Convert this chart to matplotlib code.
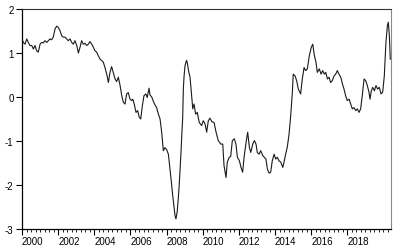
import matplotlib
matplotlib.use("Agg")
import matplotlib.pyplot as plt
import numpy as np
from matplotlib.ticker import MultipleLocator, FixedLocator

# decimal-year dates and values
dates = [
    2000.00, 2000.07, 2000.17, 2000.26, 2000.35, 2000.44, 2000.54, 2000.63, 2000.72, 2000.81,
    2000.90, 2001.00, 2001.09, 2001.18, 2001.27, 2001.37, 2001.46, 2001.55, 2001.64, 2001.73,
    2001.83, 2001.92, 2002.01, 2002.10, 2002.20, 2002.29, 2002.38, 2002.47, 2002.56, 2002.66,
    2002.75, 2002.84, 2002.93, 2003.03, 2003.12, 2003.21, 2003.30, 2003.39, 2003.49, 2003.58,
    2003.67, 2003.76, 2003.86, 2003.95, 2004.04, 2004.13, 2004.22, 2004.32, 2004.41, 2004.50,
    2004.59, 2004.69, 2004.78, 2004.87, 2004.96, 2005.05, 2005.15, 2005.24, 2005.33, 2005.42,
    2005.52, 2005.61, 2005.70, 2005.79, 2005.88, 2005.98, 2006.07, 2006.13, 2006.21, 2006.31,
    2006.40, 2006.49, 2006.57, 2006.66, 2006.75, 2006.85, 2006.93, 2007.03, 2007.08, 2007.18,
    2007.27, 2007.36, 2007.45, 2007.54, 2007.64, 2007.73, 2007.82, 2007.91, 2008.01, 2008.10,
    2008.19, 2008.27, 2008.34, 2008.41, 2008.47, 2008.52, 2008.59, 2008.65, 2008.70, 2008.76,
    2008.80, 2008.85, 2008.89, 2008.93, 2008.97, 2009.02, 2009.08, 2009.11, 2009.16, 2009.20,
    2009.24, 2009.30, 2009.35, 2009.39, 2009.45, 2009.52, 2009.61, 2009.70, 2009.81, 2009.94,
    2010.03, 2010.13, 2010.22, 2010.31, 2010.40, 2010.50, 2010.63, 2010.74, 2010.86, 2011.00,
    2011.11, 2011.18, 2011.29, 2011.36, 2011.47, 2011.55, 2011.64, 2011.75, 2011.84, 2011.92,
    2012.03, 2012.12, 2012.21, 2012.30, 2012.44, 2012.49, 2012.58, 2012.66, 2012.77, 2012.86,
    2012.95, 2013.02, 2013.12, 2013.21, 2013.32, 2013.41, 2013.50, 2013.58, 2013.67, 2013.76,
    2013.85, 2013.95, 2014.04, 2014.13, 2014.22, 2014.32, 2014.43, 2014.50, 2014.59, 2014.68,
    2014.78, 2014.87, 2014.96, 2015.01, 2015.11, 2015.20, 2015.29, 2015.42, 2015.51, 2015.61,
    2015.70, 2015.79, 2015.90, 2016.01, 2016.09, 2016.18, 2016.27, 2016.34, 2016.45, 2016.55,
    2016.64, 2016.73, 2016.81, 2016.90, 2016.99, 2017.08, 2017.17, 2017.27, 2017.36, 2017.45,
    2017.54, 2017.64, 2017.73, 2017.82, 2017.91, 2018.00, 2018.10, 2018.19, 2018.28, 2018.37,
    2018.47, 2018.56, 2018.65, 2018.74, 2018.83, 2018.93, 2019.02, 2019.11, 2019.20, 2019.26,
    2019.33, 2019.41, 2019.50, 2019.59, 2019.68, 2019.77, 2019.87, 2019.96, 2020.05, 2020.14,
    2020.22, 2020.27, 2020.33, 2020.38,
]
values = [
    1.32, 1.24, 1.20, 1.32, 1.24, 1.17, 1.17, 1.09, 1.17, 1.05,
    1.02, 1.20, 1.24, 1.23, 1.28, 1.24, 1.28, 1.32, 1.30, 1.36,
    1.55, 1.61, 1.58, 1.51, 1.39, 1.36, 1.36, 1.32, 1.28, 1.32,
    1.24, 1.20, 1.28, 1.17, 1.00, 1.13, 1.28, 1.20, 1.22, 1.17,
    1.20, 1.26, 1.20, 1.13, 1.05, 1.02, 0.94, 0.86, 0.83, 0.79,
    0.67, 0.52, 0.33, 0.56, 0.69, 0.56, 0.41, 0.35, 0.45, 0.28,
    0.03, -0.12, -0.16, 0.07, 0.10, -0.05, -0.08, -0.05, -0.16, -0.35,
    -0.31, -0.46, -0.50, -0.20, 0.03, 0.07, -0.01, 0.20, 0.05, 0.00,
    -0.10, -0.18, -0.24, -0.38, -0.50, -0.80, -1.22, -1.15, -1.20, -1.30,
    -1.64, -1.95, -2.24, -2.50, -2.70, -2.77, -2.60, -2.30, -2.00, -1.55,
    -1.25, -0.80, -0.50, 0.20, 0.48, 0.71, 0.80, 0.83, 0.75, 0.64,
    0.55, 0.45, 0.20, 0.03, -0.27, -0.16, -0.39, -0.35, -0.58, -0.65,
    -0.54, -0.61, -0.80, -0.54, -0.48, -0.56, -0.58, -0.80, -0.99, -1.07,
    -1.07, -1.56, -1.83, -1.48, -1.37, -1.35, -0.99, -0.95, -1.07, -1.37,
    -1.45, -1.60, -1.71, -1.33, -0.92, -0.80, -1.14, -1.26, -1.07, -0.99,
    -1.07, -1.26, -1.30, -1.22, -1.33, -1.37, -1.41, -1.64, -1.73, -1.71,
    -1.45, -1.30, -1.41, -1.37, -1.45, -1.48, -1.60, -1.48, -1.30, -1.14,
    -0.84, -0.42, 0.10, 0.52, 0.48, 0.37, 0.18, 0.07, 0.41, 0.67,
    0.60, 0.64, 0.94, 1.13, 1.20, 0.94, 0.79, 0.56, 0.64, 0.52,
    0.60, 0.52, 0.56, 0.41, 0.45, 0.33, 0.37, 0.48, 0.52, 0.60,
    0.52, 0.45, 0.30, 0.18, 0.03, -0.08, -0.05, -0.16, -0.27, -0.24,
    -0.31, -0.27, -0.35, -0.27, 0.03, 0.41, 0.37, 0.26, 0.11, -0.05,
    0.14, 0.22, 0.14, 0.26, 0.18, 0.22, 0.07, 0.11, 0.48, 1.24,
    1.62, 1.70, 1.39, 0.86,
]
year_ticks = [2000, 2002, 2004, 2006, 2008, 2010, 2012, 2014, 2016, 2018]
y_ticks = [-3, -2, -1, 0, 1, 2]

plt.rcParams['font.family'] = ['Liberation Sans', 'DejaVu Sans']

fig = plt.figure(figsize=(3.98, 2.53), dpi=100)
ax = fig.add_axes([22/398, 1-230/253, (391-22)/398, 220/253])

ax.plot(dates, values, color='#1a1a1a', lw=0.8)

ax.set_xlim(2000, 2020.42)
ax.set_ylim(-3, 2)

ax.yaxis.set_major_locator(FixedLocator(y_ticks))
ax.set_yticklabels([str(v) for v in y_ticks])
ax.xaxis.set_major_locator(FixedLocator(year_ticks))
ax.xaxis.set_minor_locator(MultipleLocator(0.25))
ax.set_xticklabels([str(y) for y in year_ticks], ha='left')

ax.tick_params(axis='y', which='major', direction='out', length=4, width=0.8,
               pad=2, labelsize=7, colors='black')
ax.tick_params(axis='x', which='major', direction='out', length=4, width=0.8,
               pad=1, labelsize=7, colors='black')
ax.tick_params(axis='x', which='minor', direction='out', length=2, width=0.6)
ax.tick_params(right=False, top=False)

for s in ['left', 'bottom']:
    ax.spines[s].set_color('black')
    ax.spines[s].set_linewidth(0.9)
ax.spines['top'].set_color('#333333')
ax.spines['top'].set_linewidth(0.8)
ax.spines['right'].set_color('#8a8a8a')
ax.spines['right'].set_linewidth(0.8)

fig.savefig('out.png', dpi=100)
